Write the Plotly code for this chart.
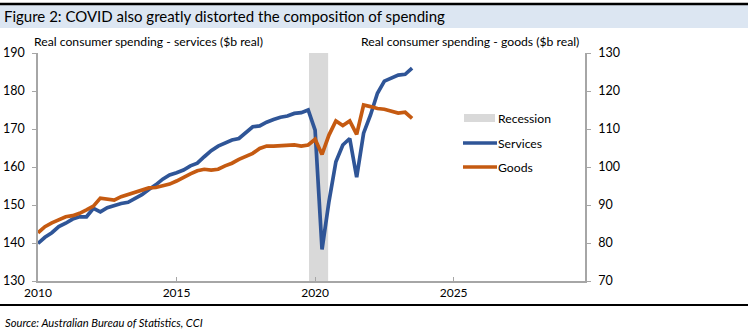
import numpy as np
import plotly.graph_objects as go

# Quarterly observations, Dec-2009 quarter through Jun-2023 quarter (decimal years)
quarters = np.arange(2010.0, 2023.5 + 0.001, 0.25)

# Real consumer spending - services ($b real), left axis
services = [139.9, 141.5, 142.7, 144.3, 145.2, 146.3, 146.9, 146.9, 149.1, 148.2,
            149.3, 149.9, 150.4, 150.7, 151.8, 152.7, 154.1, 155.3, 156.8, 157.9,
            158.5, 159.2, 160.3, 161.0, 162.7, 164.3, 165.5, 166.4, 167.1, 167.5,
            169.0, 170.6, 170.8, 171.8, 172.5, 173.1, 173.4, 174.1, 174.3, 175.0,
            169.7, 138.3, 150.9, 161.4, 165.8, 167.5, 157.3, 168.9, 173.7, 179.4,
            182.6, 183.3, 184.2, 184.4, 186.0]

# Real consumer spending - goods ($b real), right axis
goods = [82.7, 84.3, 85.3, 86.2, 86.9, 87.2, 87.8, 88.7, 89.7, 91.8,
         91.5, 91.3, 92.2, 92.8, 93.5, 94.1, 94.5, 94.6, 95.0, 95.5,
         96.3, 97.3, 98.2, 99.0, 99.4, 99.2, 99.4, 100.3, 101.0, 102.0,
         102.7, 103.6, 104.9, 105.5, 105.5, 105.6, 105.7, 105.8, 105.5, 105.8,
         107.3, 103.3, 108.4, 112.1, 110.9, 112.1, 108.6, 116.3, 115.9, 115.4,
         115.2, 114.7, 114.2, 114.4, 112.8]

# Recession period
recession_start = 2019.78
recession_end = 2020.47

x_ticks = [2010, 2015, 2020, 2025]
x_tick_labels = ["2010", "2015", "2020", "2025"]
left_ticks = [130, 140, 150, 160, 170, 180, 190]
right_ticks = [70, 80, 90, 100, 110, 120, 130]

BLUE = "#2F5597"
ORANGE = "#C55A11"
GREY_BAND = "#D9D9D9"
AXIS_GREY = "#A6A6A6"
FONT = "Lato"

W, H = 748, 334
ML, MR, MT, MB = 38, 163, 53, 53
PW, PH = W - ML - MR, H - MT - MB


def px(x):
    return (x - ML) / PW


def py(y):
    return (H - MB - y) / PH


fig = go.Figure()

fig.add_vrect(x0=recession_start, x1=recession_end, fillcolor=GREY_BAND,
              line_width=0, layer="below")

fig.add_trace(go.Scatter(x=quarters, y=services, mode="lines", name="Services",
                         line=dict(color=BLUE, width=3.7), yaxis="y"))
fig.add_trace(go.Scatter(x=quarters, y=goods, mode="lines", name="Goods",
                         line=dict(color=ORANGE, width=3.7), yaxis="y2"))

shapes = []
annotations = []

# Title bar
shapes.append(dict(type="rect", xref="paper", yref="paper",
                   x0=px(0), x1=px(W), y0=py(28), y1=py(5),
                   fillcolor="#DCE6F2", line_width=0, layer="below"))
shapes.append(dict(type="line", xref="paper", yref="paper",
                   x0=px(0), x1=px(W), y0=py(4), y1=py(4),
                   line=dict(color="black", width=2.5)))
annotations.append(dict(text="Figure 2: COVID also greatly distorted the composition of spending",
                        xref="paper", yref="paper", x=px(2), y=py(16),
                        xanchor="left", yanchor="middle", showarrow=False,
                        font=dict(family=FONT, size=15, color="#000000")))

# Axis titles
annotations.append(dict(text="Real consumer spending - services ($b real)",
                        xref="paper", yref="paper", x=px(32), y=py(41),
                        xanchor="left", yanchor="middle", showarrow=False,
                        font=dict(family=FONT, size=12.2, color="#000000")))
annotations.append(dict(text="Real consumer spending - goods ($b real)",
                        xref="paper", yref="paper", x=px(581), y=py(41),
                        xanchor="right", yanchor="middle", showarrow=False,
                        font=dict(family=FONT, size=12.2, color="#000000")))

# Legend
shapes.append(dict(type="rect", xref="paper", yref="paper",
                   x0=px(464), x1=px(495), y0=py(122), y1=py(114),
                   fillcolor=GREY_BAND, line_width=0))
shapes.append(dict(type="line", xref="paper", yref="paper",
                   x0=px(463), x1=px(497), y0=py(143), y1=py(143),
                   line=dict(color=BLUE, width=3.7)))
shapes.append(dict(type="line", xref="paper", yref="paper",
                   x0=px(463), x1=px(497), y0=py(167), y1=py(167),
                   line=dict(color=ORANGE, width=3.7)))
for label, yy in [("Recession", 118), ("Services", 143), ("Goods", 167)]:
    annotations.append(dict(text=label, xref="paper", yref="paper",
                            x=px(496), y=py(yy), xanchor="left", yanchor="middle",
                            showarrow=False,
                            font=dict(family=FONT, size=12.2, color="#000000")))

# Footer rule and source
shapes.append(dict(type="line", xref="paper", yref="paper",
                   x0=px(0), x1=px(W), y0=py(305), y1=py(305),
                   line=dict(color="black", width=2)))
annotations.append(dict(text="<i>Source: Australian Bureau of Statistics, CCI</i>",
                        xref="paper", yref="paper", x=px(3), y=py(322),
                        xanchor="left", yanchor="middle", showarrow=False,
                        font=dict(family=FONT, size=11.2, color="#000000")))

fig.update_layout(
    width=W, height=H,
    margin=dict(l=ML, r=MR, t=MT, b=MB, pad=0, autoexpand=False),
    paper_bgcolor="white", plot_bgcolor="white",
    showlegend=False,
    font=dict(family=FONT, size=12, color="#000000"),
    shapes=fig.layout.shapes + tuple(shapes),
    annotations=annotations,
    xaxis=dict(range=[2010, 2029.74], tickvals=x_ticks, ticktext=x_tick_labels,
               showgrid=False, zeroline=False, showline=True, linecolor=AXIS_GREY,
               linewidth=1.5, ticks="inside", ticklen=4, tickcolor=AXIS_GREY,
               tickfont=dict(family=FONT, size=12), automargin=False),
    yaxis=dict(range=[130, 190], tickvals=left_ticks, showgrid=False, zeroline=False,
               showline=True, linecolor=AXIS_GREY, linewidth=1.5, ticks="outside",
               ticklen=4, tickcolor=AXIS_GREY, tickfont=dict(family=FONT, size=12.5),
               ticklabelstandoff=5, automargin=False),
    yaxis2=dict(range=[70, 130], tickvals=right_ticks, overlaying="y", side="right",
                showgrid=False, zeroline=False, showline=True, linecolor=AXIS_GREY,
                linewidth=1.5, ticks="outside", ticklen=4, tickcolor=AXIS_GREY,
                tickfont=dict(family=FONT, size=12.5), ticklabelstandoff=5,
                automargin=False),
)

fig.write_html("out.html")
